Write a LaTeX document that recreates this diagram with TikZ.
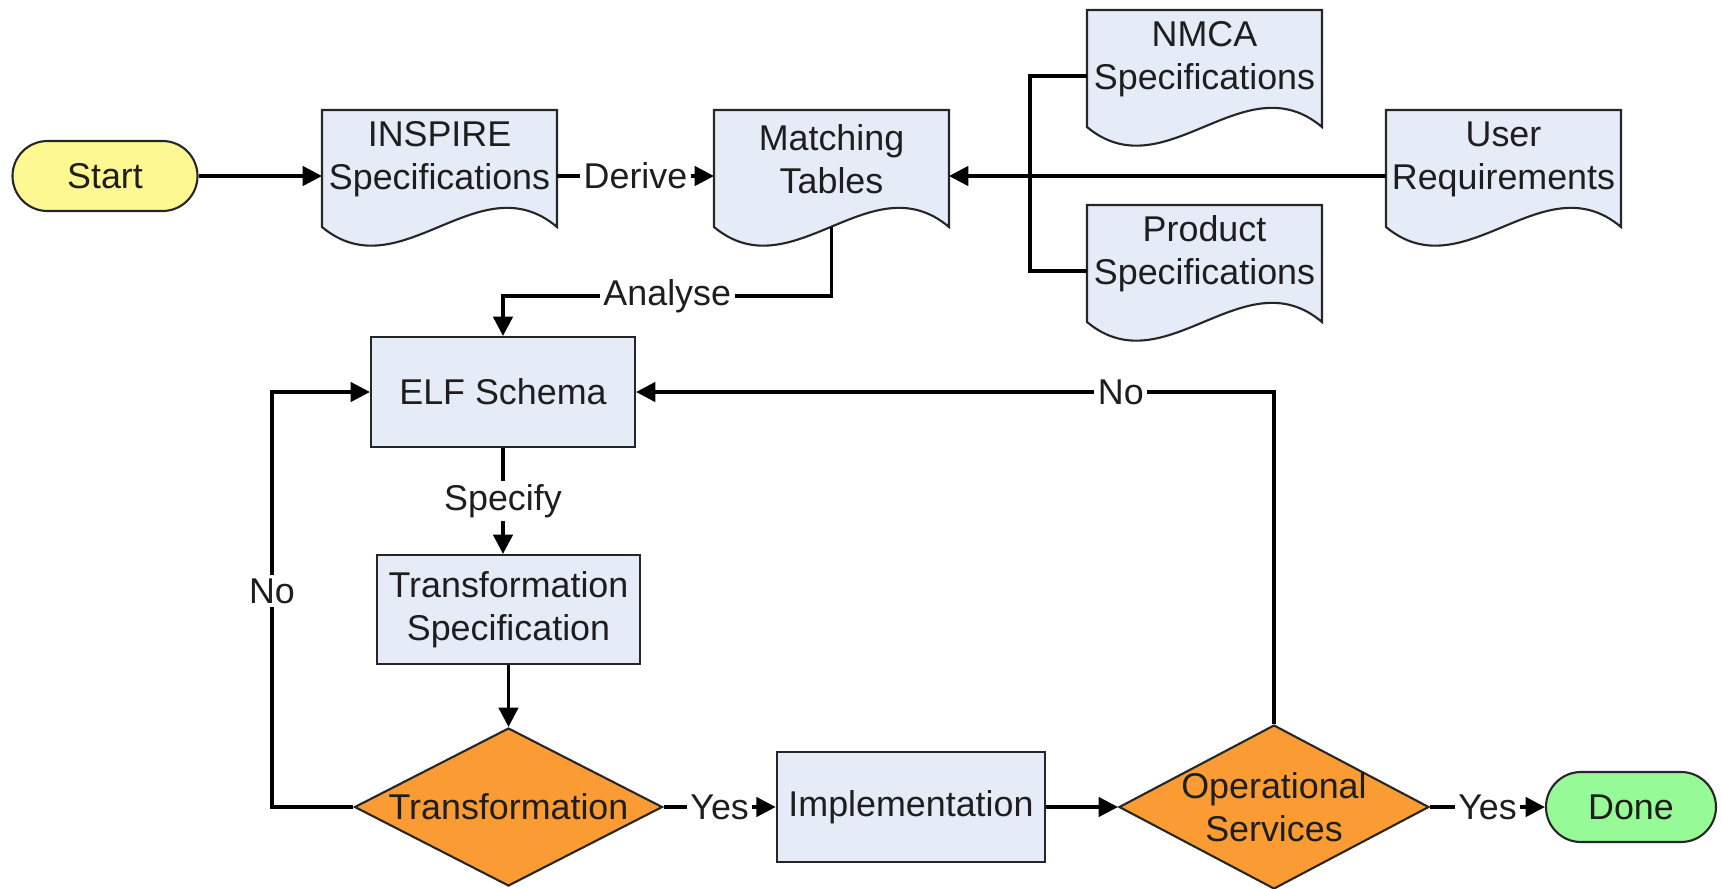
\documentclass[tikz,border=0pt]{standalone}
\usepackage{fontspec}
\setmainfont{Liberation Sans}
\usepackage{tikz}
\usetikzlibrary{arrows.meta,shapes.geometric,calc,backgrounds}
\definecolor{docblue}{RGB}{230,236,247}
\definecolor{startyellow}{RGB}{253,248,145}
\definecolor{donegreen}{RGB}{150,250,150}
\definecolor{decorange}{RGB}{250,155,52}
\definecolor{txtgray}{RGB}{30,30,30}
\tikzstyle{process} = [rectangle, minimum width=2.64cm, minimum height=1.1cm, align=center, draw=black!85, fill=docblue, line width=0.6pt]
\tikzstyle{docnode} = [rectangle, minimum width=2.35cm, minimum height=0.98cm, align=center, inner sep=1pt, outer sep=0pt]
\tikzstyle{docline} = [draw=black!85, fill=docblue, line width=0.6pt]
\tikzstyle{decision} = [diamond, aspect=1.95, inner sep=-4pt, align=center, draw=black!85, fill=decorange, line width=0.6pt]
\tikzstyle{terminal} = [rectangle, rounded corners=0.35cm, minimum height=0.7cm, draw=black!85, line width=0.6pt]
\tikzstyle{conn} = [line width=1pt]
\tikzstyle{arrow} = [line width=1pt,->,>={Triangle[length=5.5pt,width=5.5pt]}]
\tikzstyle{lbl} = [fill=white, inner sep=1pt]
% document outline with wavy bottom
\newcommand{\docshape}[1]{%
  \draw[docline] (#1.north west) -- (#1.north east) -- ($(#1.south east)+(0,-0.19)$)
    .. controls ($(#1.south east)+(-0.78,0.47)$) and ($(#1.south west)+(0.78,-0.84)$)
    .. ($(#1.south west)+(0,-0.19)$) -- cycle;}

\begin{document}
\begin{tikzpicture}[font=\fontsize{10.2}{12.2}\selectfont, text=txtgray]
\useasboundingbox (0,0) rectangle (17.22,-8.88);
% sources
\node[terminal, fill=startyellow, minimum width=1.85cm] (start) at (1.05,-1.76) {Start};
\node[docnode] (inspire) at (4.395,-1.59) {INSPIRE\\Specifications};
\node[docnode] (match) at (8.315,-1.59) {Matching\\Tables};
\node[docnode] (nmca) at (12.045,-0.59) {NMCA\\Specifications};
\node[docnode] (prodspec) at (12.045,-2.54) {Product\\Specifications};
\node[docnode] (userreq) at (15.035,-1.59) {User\\Requirements};
\coordinate (join) at (10.30,-1.76);

\begin{scope}[on background layer]
\foreach \n in {inspire,match,nmca,prodspec,userreq}
  \docshape{\n};
\end{scope}

% flow
\node[process] (elf) at (5.03,-3.92) {ELF Schema};
\node[process, minimum width=2.61cm, minimum height=1.09cm] (tspec) at (5.085,-6.095) {Transformation\\Specification};
\node[decision, minimum width=3.08cm, minimum height=1.58cm] (trans) at (5.085,-8.07) {Transformation};
\node[process, minimum width=2.68cm] (impl) at (9.11,-8.07) {Implementation};
\node[decision, minimum width=3.10cm, minimum height=1.64cm] (opserv) at (12.74,-8.07) {Operational\\Services};
\node[terminal, fill=donegreen, minimum width=1.70cm] (done) at (16.31,-8.07) {Done};

\draw[arrow] (start.east) -- (start.east -| inspire.west);
\draw[arrow] ([yshift=-0.17cm]inspire.east) -- node[lbl] {Derive} ([yshift=-0.17cm]match.west);
\draw[arrow] ([yshift=-0.17cm]userreq.west) -- ([yshift=-0.17cm]match.east);
\draw[conn] ([yshift=-0.17cm]nmca.west) -| (join) |- ([yshift=-0.17cm]prodspec.west);
\draw[arrow] ([yshift=-0.19cm]match.south) -- ++(0,-0.69) -| node[lbl, pos=0.25] {Analyse} (elf.north);

\draw[arrow] (elf.south) -- node[lbl] {Specify} (elf.south |- tspec.north);
\draw[arrow] (tspec.south) -- (trans.north);
\draw[arrow] (trans.east) -- node[lbl] {Yes} (impl.west);
\draw[arrow] (impl.east) -- (opserv.west);
\draw[arrow] (opserv.east) -- node[lbl] {Yes} (done.west);
\draw[arrow] (opserv.north) |- node[lbl, pos=0.62] {No} (elf.east);
\draw[arrow] (trans.west) -| node[lbl, pos=0.76] {No} ([xshift=-0.98cm]elf.west) -- (elf.west);
\end{tikzpicture}
\end{document}
